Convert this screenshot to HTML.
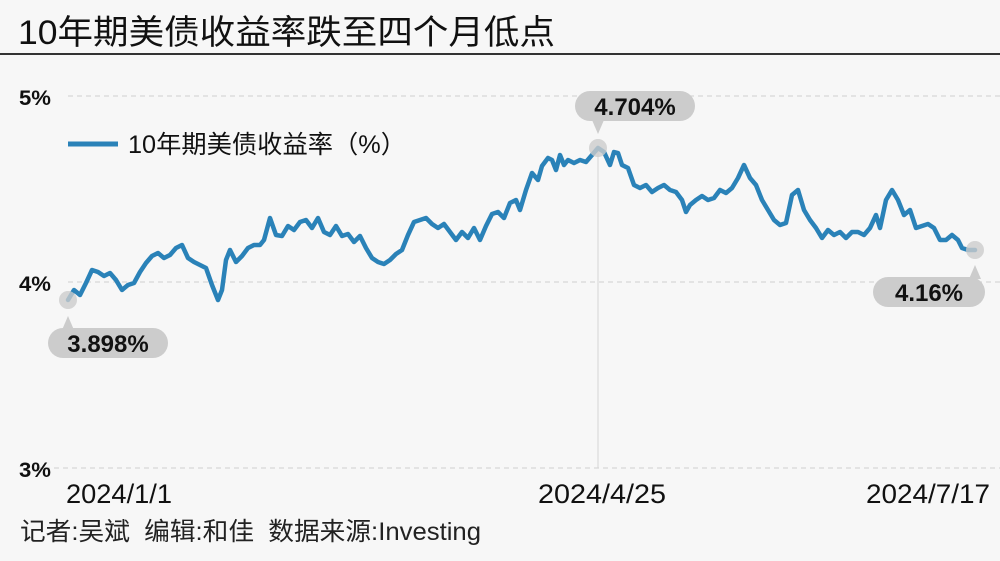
<!DOCTYPE html>
<html><head><meta charset="utf-8"><style>
html,body{margin:0;padding:0;background:#f7f7f7;}
body{width:1000px;height:556px;overflow:hidden;font-family:"Liberation Sans","Noto Sans CJK SC",sans-serif;}
</style></head><body>
<svg width="1000" height="556" xmlns="http://www.w3.org/2000/svg" style="font-family:'Liberation Sans','Noto Sans CJK SC',sans-serif">
<rect width="1000" height="556" fill="#f7f7f7"/>
<text x="18" y="44" font-size="30" fill="#111" textLength="537" lengthAdjust="spacingAndGlyphs" transform="translate(0,0)" style="font-size:34px">10年期美债收益率跌至四个月低点</text>
<rect x="0" y="53" width="1000" height="2" fill="#333"/>
<g stroke="#cfcfcf" stroke-dasharray="5,4" stroke-width="1">
<line x1="68" y1="96" x2="1000" y2="96"/><line x1="68" y1="282" x2="1000" y2="282"/><line x1="36" y1="468" x2="1000" y2="468"/>
</g>
<line x1="598" y1="148" x2="598" y2="468" stroke="#d5d5d5" stroke-width="1"/>
<g font-size="21" font-weight="bold" fill="#111">
<text x="19" y="105" textLength="32" lengthAdjust="spacingAndGlyphs">5%</text><text x="19" y="291" textLength="32" lengthAdjust="spacingAndGlyphs">4%</text><text x="19" y="477" textLength="32" lengthAdjust="spacingAndGlyphs">3%</text>
</g>
<g font-size="27" fill="#111">
<text x="66" y="503" textLength="106" lengthAdjust="spacingAndGlyphs">2024/1/1</text><text x="538" y="503" textLength="128" lengthAdjust="spacingAndGlyphs">2024/4/25</text><text x="866" y="503" textLength="124" lengthAdjust="spacingAndGlyphs">2024/7/17</text>
</g>
<text x="20" y="540" font-size="25" fill="#222" textLength="461" lengthAdjust="spacingAndGlyphs" xml:space="preserve">记者:吴斌  编辑:和佳  数据来源:Investing</text>
<line x1="68" y1="144" x2="118" y2="144" stroke="#2a82b8" stroke-width="5"/>
<text x="128" y="153" font-size="25" fill="#111" textLength="278" lengthAdjust="spacingAndGlyphs">10年期美债收益率（%）</text>
<polyline fill="none" stroke="#2a82b8" stroke-width="4.5" stroke-linejoin="round" stroke-linecap="round" points="68,300 74,290 80,295 86,283 92,270 98,272 104,276 110,273 116,280 122,290 128,285 134,283 140,272 146,263 152,256 158,253 164,258 170,255 176,248 182,245 188,258 194,262 200,265 206,268 212,285 218,300 222,290 226,260 230,250 236,262 242,256 248,248 254,245 260,245 264,240 270,218 276,235 282,236 288,226 294,230 300,222 306,220 312,228 318,218 324,232 330,235 336,226 342,236 348,234 354,242 360,236 366,248 372,258 378,262 384,264 390,260 396,254 402,250 408,235 414,222 420,220 426,218 432,224 438,228 444,224 450,232 456,240 462,232 468,238 474,228 480,240 486,226 492,214 498,212 504,218 510,203 516,200 520,210 526,190 532,173 538,180 542,166 548,158 552,160 556,170 560,155 564,165 568,160 574,163 580,160 586,162 592,155 598,148 604,152 610,165 614,152 618,153 622,165 628,168 634,185 640,188 646,185 652,192 658,188 664,185 670,190 676,192 682,200 686,212 690,205 696,200 702,196 708,200 714,198 720,190 726,193 732,188 738,178 744,165 750,178 756,185 762,200 768,210 774,220 780,225 786,223 792,195 798,190 804,210 810,220 816,228 822,238 828,230 834,235 840,232 846,238 852,232 858,232 864,235 870,228 876,215 880,228 886,200 892,190 898,200 904,215 910,210 916,228 922,226 928,224 934,228 940,240 946,240 952,235 958,240 962,248 968,250 975,250"/>
<g fill="#cccccc">
<circle cx="68" cy="300" r="9" opacity="0.8"/><circle cx="598" cy="148" r="9" opacity="0.8"/><circle cx="975" cy="250" r="9" opacity="0.8"/>
<rect x="575" y="91" width="120" height="30" rx="15"/>
<path d="M592,120 L598,134 L604,120Z"/>
<rect x="48" y="328" width="120" height="30" rx="15"/>
<path d="M62,330 L68,316 L74,330Z"/>
<rect x="873" y="277" width="112" height="30" rx="15"/>
<path d="M969,279 L975,265 L981,279Z"/>
</g>
<g font-size="24" font-weight="bold" fill="#111" text-anchor="middle">
<text x="635" y="115">4.704%</text><text x="108" y="352">3.898%</text><text x="929" y="301">4.16%</text>
</g>
</svg>
</body></html>
